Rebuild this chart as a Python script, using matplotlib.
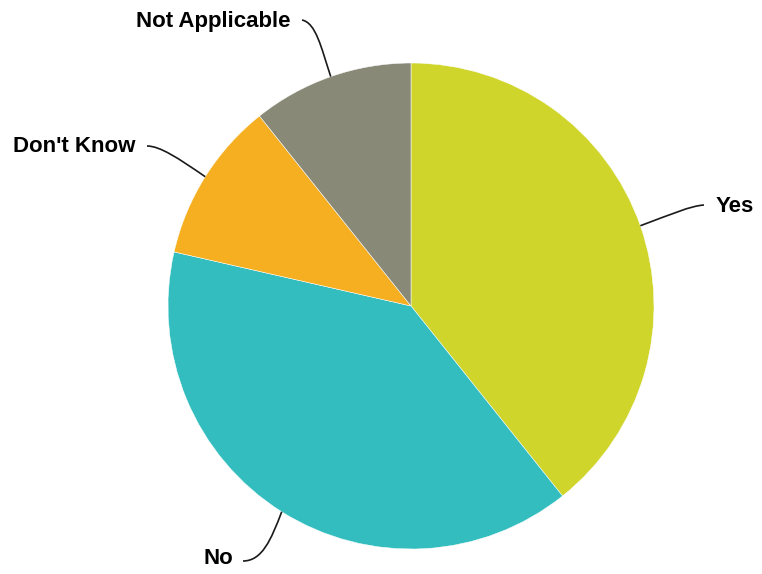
import matplotlib.pyplot as plt
import numpy as np
from matplotlib.path import Path
from matplotlib.patches import PathPatch

plt.rcParams["font.family"] = ["Liberation Sans", "DejaVu Sans"]

labels = ["Yes", "No", "Don't Know", "Not Applicable"]
counts = [11, 11, 3, 3]
colors = ["#CFD52A", "#33BDBF", "#F5AF20", "#898978"]

W, H = 762, 574
CX, CY, R = 411, H - 306, 243

# label anchor (x, y from top), alignment, and leader-line bezier handles (from top)
label_layout = {
    "Yes": dict(xy=(716, 206), ha="left", c1=(672, 214), c2=(690, 206), end=(704, 205)),
    "No": dict(xy=(233, 558), ha="right", c1=(271, 540), c2=(262, 561), end=(243, 561)),
    "Don't Know": dict(xy=(135, 147), ha="right", c1=(178, 158), c2=(160, 146), end=(147, 146)),
    "Not Applicable": dict(xy=(290, 21), ha="right", c1=(321, 47), c2=(316, 23), end=(302, 20)),
}

fig = plt.figure(figsize=(W / 100, H / 100), dpi=100)
ax = fig.add_axes([0, 0, 1, 1])

wedges, _ = ax.pie(
    counts,
    colors=colors,
    startangle=90,
    counterclock=False,
    center=(CX, CY),
    radius=R,
    wedgeprops=dict(edgecolor="white", linewidth=0.35),
    frame=True,
)
ax.set_xlim(0, W)
ax.set_ylim(0, H)
ax.set_aspect("equal")
ax.axis("off")

for w, name in zip(wedges, labels):
    lay = label_layout[name]
    mid = np.deg2rad((w.theta1 + w.theta2) / 2)
    start = (CX + R * np.cos(mid), CY + R * np.sin(mid))
    pts = [start] + [(p[0], H - p[1]) for p in (lay["c1"], lay["c2"], lay["end"])]
    path = Path(pts, [Path.MOVETO, Path.CURVE4, Path.CURVE4, Path.CURVE4])
    ax.add_patch(PathPatch(path, fill=False, edgecolor="#1a1a1a", lw=1.2))
    x, y = lay["xy"]
    ax.text(x, H - y, name, ha=lay["ha"], va="center", fontsize=16,
            fontweight="bold", color="black")

fig.savefig("out.png", dpi=100)
